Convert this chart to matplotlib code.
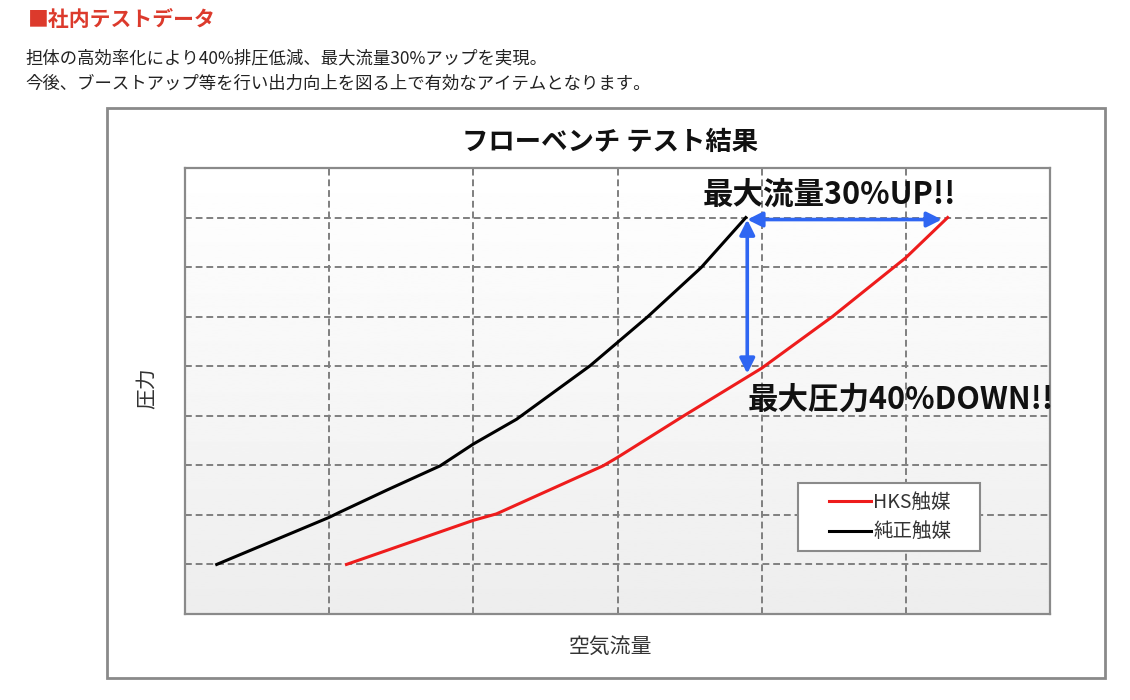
import matplotlib
matplotlib.use("Agg")
import matplotlib.pyplot as plt
import numpy as np
from matplotlib.patches import Rectangle

plt.rcParams['font.family'] = ['Noto Sans CJK JP', 'DejaVu Sans']

# data (grid units)
hks_x = [1.12, 2.0, 2.16, 2.9, 3.0, 3.46, 4.0, 4.49, 5.0, 5.29]
hks_y = [1.0, 1.89, 2.02, 2.99, 3.16, 4.0, 4.96, 6.0, 7.19, 8.0]
stock_x = [0.22, 1.0, 1.07, 1.4, 1.77, 2.0, 2.3, 2.81, 3.0, 3.21, 3.58, 3.89]
stock_y = [1.0, 1.95, 2.05, 2.5, 2.99, 3.43, 3.93, 5.01, 5.48, 6.0, 6.99, 8.0]
labels = ['HKS触媒', '純正触媒']

# arrows: max flow (horizontal) and max pressure (vertical)
flow_arrow = [(3.90, 7.96), (5.25, 7.96)]
press_arrow = [(3.90, 7.96), (3.90, 4.85)]

heading = '■社内テストデータ'
body = ['担体の高効率化により40%排圧低減、最大流量30%アップを実現。',
        '今後、ブーストアップ等を行い出力向上を図る上で有効なアイテムとなります。']

W, H = 1130, 700
fig = plt.figure(figsize=(W / 100, H / 100), dpi=100)
fig.patch.set_facecolor('white')

def fx(px):
    return px / W

def fy(py):
    return 1 - py / H

# page text
fig.text(fx(28), fy(20), heading, color='#dc3a2c', fontsize=15, fontweight='bold', va='center', ha='left')
fig.text(fx(25), fy(58), body[0], color='#222222', fontsize=12.5, va='center', ha='left')
fig.text(fx(25), fy(84), body[1], color='#222222', fontsize=12.5, va='center', ha='left')

# chart frame
fig.patches.append(Rectangle((fx(107), fy(678)), fx(1105) - fx(107), fy(108) - fy(678),
                             transform=fig.transFigure, facecolor='none',
                             edgecolor='#8a8a8a', lw=2, zorder=-1))

ax = fig.add_axes([fx(185), fy(614), fx(1050) - fx(185), fy(168) - fy(614)])
ax.set_xlim(0, 6)
ax.set_ylim(0, 9)

# gradient background
grad = np.linspace(0.93, 1.0, 256).reshape(-1, 1)
ax.imshow(grad, extent=[0, 6, 0, 9], origin='lower', cmap='gray', vmin=0, vmax=1,
          aspect='auto', zorder=0)

for v in range(1, 6):
    ax.axvline(v, color='#7f7f7f', lw=1.4, ls=(0, (3.5, 2)), zorder=1)
for h in range(1, 9):
    ax.axhline(h, color='#7f7f7f', lw=1.4, ls=(0, (3.5, 2)), zorder=1)

ax.plot(hks_x, hks_y, color='#ee1c1c', lw=2.2, label=labels[0], zorder=3)
ax.plot(stock_x, stock_y, color='black', lw=2.2, label=labels[1], zorder=3)

arrow_style = dict(arrowstyle='<|-|>,head_length=0.5,head_width=0.25', color='#2f66f2',
                   lw=2.6, mutation_scale=18, shrinkA=0, shrinkB=0)
ax.annotate('', xy=flow_arrow[1], xytext=flow_arrow[0], arrowprops=arrow_style, zorder=4)
ax.annotate('', xy=press_arrow[1], xytext=press_arrow[0], arrowprops=arrow_style, zorder=4)

ax.text(3.59, 8.47, '最大流量30%UP!!', fontsize=22, fontweight='bold', va='center', ha='left',
        color='#111111', zorder=5)
ax.text(3.90, 4.32, '最大圧力40%DOWN!!', fontsize=22, fontweight='bold', va='center', ha='left',
        color='#111111', zorder=5, clip_on=False)

ax.set_xticks([])
ax.set_yticks([])
for s in ax.spines.values():
    s.set_color('#8a8a8a')
    s.set_linewidth(1.6)

# legend box drawn separately so its size matches the original
ax.add_patch(Rectangle((0.709, 0.141), 0.210, 0.153, transform=ax.transAxes,
                       facecolor='white', edgecolor='#8a8a8a', lw=1.5, zorder=6))
leg = ax.legend(loc='center', bbox_to_anchor=(0.815, 0.2175), fontsize=14,
                handlelength=2.2, handletextpad=0.1, labelspacing=0.45,
                borderpad=0.3, borderaxespad=0, frameon=False)
leg.set_zorder(7)
for t in leg.get_texts():
    t.set_color('#333333')

fig.text(fx(610), fy(142), 'フローベンチ テスト結果', fontsize=19, fontweight='bold',
         ha='center', va='center', color='#111111')
fig.text(fx(610), fy(647), '空気流量', fontsize=15, ha='center', va='center', color='#333333')
fig.text(fx(148), fy(388), '圧力', fontsize=15, ha='center', va='center', rotation=90,
         color='#333333')

fig.savefig('out.png', dpi=100, facecolor='white')
